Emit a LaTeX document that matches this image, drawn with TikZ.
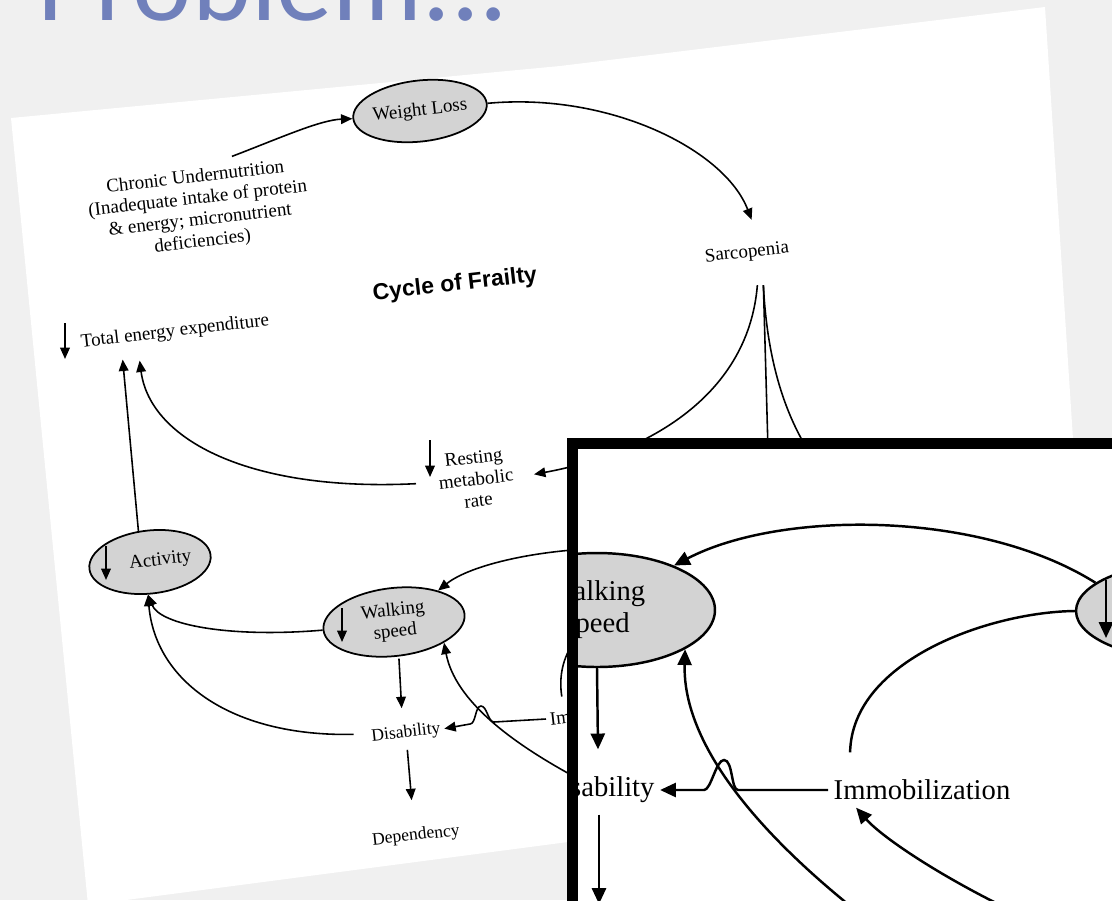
\documentclass[tikz,border=0pt]{standalone}
\usepackage{fontspec}
\setmainfont{Liberation Serif}
\newfontfamily\titlefont{Carlito}
\newfontfamily\headfont{Liberation Sans}
\usepackage{xcolor}
\usetikzlibrary{arrows.meta,shapes.geometric,calc}
\definecolor{slidegray}{RGB}{240,240,240}
\definecolor{titleblue}{RGB}{112,128,187}
\definecolor{bubblegray}{RGB}{211,211,211}

\begin{document}
\begin{tikzpicture}[x=0.02cm,y=-0.02cm,
    lbl/.style={rotate=6.5,align=center,inner sep=2pt,font=\fontsize{10.8pt}{12.3pt}\selectfont},
    lowlbl/.style={lbl,font=\fontsize{10pt}{11pt}\selectfont},
    bubble/.style={lbl,ellipse,draw,line width=1pt,fill=bubblegray,inner sep=0pt},
    link/.style={line width=0.9pt},
    arr/.style={link,-{Triangle[length=6.5pt,width=5.5pt]}},
    zlbl/.style={align=center,inner sep=3pt,font=\fontsize{16.3pt}{18.2pt}\selectfont},
    zbubble/.style={zlbl,ellipse,draw,line width=1.4pt,fill=bubblegray,inner sep=0pt},
    zlink/.style={line width=1.4pt},
    zarr/.style={zlink,-{Triangle[length=9pt,width=8pt]}}]
  \useasboundingbox (0,0) rectangle (1112,900);
  \clip (0,0) rectangle (1112,900);
  \fill[slidegray] (0,0) rectangle (1112,900);
  \node[anchor=base west,inner sep=0pt,text=titleblue,font=\titlefont\fontsize{64pt}{70pt}\selectfont] (title) at (37,20) {Problem...};

  % scanned page
  \fill[white] (11,118) -- (560,66) -- (1045,7) -- (1075,470) -- (1075,700) -- (568,842) -- (88,905) -- cycle;

  \node[bubble,minimum width=2.42cm,minimum height=1.22cm] (wl) at (420,111) {Weight Loss};
  \node[lbl] (chr) at (199,210) {Chronic Undernutrition\\(Inadequate intake of protein\\\& energy; micronutrient\\deficiencies)};
  \node[lbl] (sar) at (747,253) {Sarcopenia};
  \node[lbl,font=\headfont\bfseries\fontsize{13.1pt}{15pt}\selectfont] (cof) at (455,285) {Cycle of Frailty};
  \node[lbl] (tee) at (175,332) {Total energy expenditure};
  \node[lbl] (rmr) at (476,479) {Resting\\metabolic\\rate};
  \node[bubble,minimum width=2.44cm,minimum height=1.26cm] (act) at (150,562) {\hspace*{1.1em}Activity};
  \node[bubble,minimum width=2.84cm,minimum height=1.36cm] (ws) at (394,622) {Walking\\speed};
  \node[lowlbl] (dis) at (406,733) {Disability};
  \node[lowlbl] (dep) at (416,836) {Dependency};
  \node[lbl,anchor=west] (imm) at (546,719) {Immobilization};

  % down marks
  \draw[arr] ($(tee)+(-110,-9)$) -- ++(0,36);
  \draw[arr] ($(rmr)+(-46,-39)$) -- ++(0,37);
  \draw[arr] ($(act)+(-44,-16)$) -- ++(0,34);
  \draw[arr] ($(ws)+(-52,-14)$) -- ++(0,34);

  \coordinate (hidA) at (770,520);
  \coordinate (hidB) at (830,480);
  \coordinate (hidC) at (620,548);
  \coordinate (hidD) at (620,610);
  \coordinate (hidE) at (600,790);

  \draw[arr] ($(chr.north)+(38,-9)$) .. controls (280,138) and (320,120) .. (wl.west);
  \draw[arr] (wl.east) .. controls (610,92) and (725,150) .. ($(sar.north)+(6,-21)$);
  \draw[arr] ($(sar.south)+(9,20)$) .. controls (748,400) and (640,455) .. ($(rmr.east)+(17,0)$);
  \draw[link] ($(sar.south)+(15,20)$) -- (hidA);
  \draw[link] ($(sar.south)+(15,20)$) .. controls (768,380) and (795,440) .. (hidB);
  \draw[arr] ($(rmr.west)+(-19,0)$) .. controls (250,492) and (150,440) .. ($(tee.south west)+(61,5)$);
  \draw[arr] (act.104) -- ($(tee.south west)+(44,4)$);
  \draw[arr] (ws.west) .. controls (230,638) and (160,625) .. (act.260);
  \draw[arr] ($(dis.west)+(-14,-3)$) .. controls (230,737) and (155,680) .. (act.260);
  \draw[arr] ($(ws.south)+(1,2)$) -- ($(dis.north)+(-3,-13)$);
  \draw[arr] ($(dis.south)+(0,5)$) -- ($(dep.north)+(-3,-24)$);
  \draw[arr] (imm.west) -- (494,722) .. controls (488,722) and (487,706) .. (481,706) .. controls (475,706) and (476,724) .. (470,724) -- (dis.east);
  \draw[arr] (hidE) .. controls (510,745) and (455,700) .. (ws.331);
  \draw[link] (hidD) .. controls (575,625) and (556,660) .. ($(imm.north west)+(17,-12)$);
  \draw[arr] (hidC) .. controls (540,548) and (470,565) .. (ws.29);

  % enlarged detail
  \fill[white] (572,443) rectangle (1140,930);
  \begin{scope}
    \clip (578,449) rectangle (1112,900);
    \node[zbubble,minimum width=4.72cm,minimum height=2.28cm] (zws) at (597,610) {Walking\\speed};
    \node[zbubble,minimum width=4.72cm,minimum height=1.96cm] (zstr) at (1194,611) {};
    \draw[zarr] ($(zstr)+(-88,-31)$) -- ++(0,58);
    \node[zlbl] (zdis) at (598,790) {Disability};
    \node[zlbl] (zimm) at (922,790) {Immobilization};
    \coordinate (zlowA) at (849,905);
    \coordinate (zlowB) at (1000,905);
    \coordinate (zend) at (599,904);
    \draw[zarr] (zstr.164) .. controls (980,510) and (780,510) .. (zws.30);
    \draw[zlink] (zstr.west) .. controls (990,612) and (852,660) .. ($(zimm.north west)+(22,-22)$);
    \draw[zarr] (zws.south) -- ($(zdis.north)+(0,-22)$);
    \draw[zarr] (zimm.west) -- (738,790) .. controls (731,790) and (733,760) .. (724,760) .. controls (716,760) and (711,790) .. (704,790) -- (zdis.east);
    \draw[zarr] (zlowA) .. controls (720,800) and (683,720) .. (zws.336);
    \draw[zarr] (zlowB) .. controls (930,870) and (880,835) .. ($(zimm.south west)+(28,2)$);
    \draw[zarr] ($(zdis.south)+(1,6)$) -- (zend);
  \end{scope}
  \draw[line width=0.22cm] (572.5,443) rectangle (1140,930);
\end{tikzpicture}
\end{document}
